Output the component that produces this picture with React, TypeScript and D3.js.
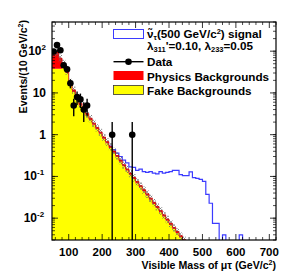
import React from "react";
import * as d3 from "d3";

const binLow = [50,60,70,80,90,100,110,120,130,140,150,160,170,180,190,200,210,220,230,240,250,260,270,280,290,300,310,320,330,340,350,360,370,380,390,400,410,420,430,440,450];
const fakeBkg = [38,38,38,44,30,16,10.5,7.0,5.0,3.8,2.9,2.25,1.72,1.36,1.05,0.8,0.62,0.48,0.37,0.29,0.225,0.175,0.138,0.11,0.087,0.069,0.055,0.044,0.035,0.0277,0.022,0.0175,0.0139,0.011,0.0087,0.0069,0.0055,0.0044,0.0035,0.0028,0.0022];
const physBkg = [57,57,30,8,4,2.2,1.3,0.8,0.55,0.4,0.3,0.23,0.17,0.13,0.1,0.078,0.06,0.045,0.035,0.027,0.021,0.016,0.013,0.01,0.008,0.0065,0.005,0.004,0.0032,0.0025,0.002,0.0016,0.0013,0.001,0.0008,0.00065,0.0005,0.0004,0.0003,0.00025,0.0002];

const sigLow = [220,230,240,250,260,270,280,290,300,310,320,330,340,350,360,370,380,390,400,410,420,430,440,450,460,470,480,490,500,510,520,530,540,550,560,570,580,590,600,610,620];
const sigPlusBkg = [0.53,0.44,0.36,0.30,0.245,0.21,0.17,0.165,0.14,0.15,0.13,0.125,0.13,0.12,0.115,0.13,0.12,0.125,0.13,0.14,0.14,0.11,0.104,0.104,0.128,0.094,0.09,0.085,0.076,0.037,0.0228,0.0075,0.0075,0,0.004,0,0,0,0,0.004,0];

const dataMass = [55,65,75,85,95,105,115,125,135,145,155,230,290];
const dataCount = [98,140,105,46,37,17,5,8,7,4,5,1,1];

const xTicks = [100,200,300,400,500,600,700];
const yTicks = [0.01,0.1,1,10,100];
const yTickBase = ["10","10","1","10","10"];
const yTickExp = ["-2","-1","","","2"];

const BIN = 10;
const bandFrac = 0.2;

export default function App() {
  const L = 52, R = 276, T = 22, B = 240;
  const x = d3.scaleLinear().domain([50, 720]).range([L, R]);
  const y = d3.scaleLog().domain([0.003, 500]).range([B, T]);
  const ys = (v: number) => (v > 0 ? y(v) : B + 60);

  const total = fakeBkg.map((f, i) => f + physBkg[i]);
  const steps = (lows: number[], lo: number[], hi: number[]) => {
    const pts: [number, number, number][] = [];
    lows.forEach((m, i) => {
      pts.push([m, lo[i], hi[i]]);
      pts.push([m + BIN, lo[i], hi[i]]);
    });
    return pts;
  };
  const area = d3.area<[number, number, number]>()
    .x(d => x(d[0])).y0(d => ys(d[1])).y1(d => ys(d[2]));
  const zeros = binLow.map(() => 0);
  const yellowPath = area(steps(binLow, zeros, fakeBkg)) || "";
  const redPath = area(steps(binLow, fakeBkg, total)) || "";
  const bandPath = area(steps(binLow, total.map(t => t * (1 - bandFrac)), total.map(t => t * (1 + bandFrac)))) || "";
  const line = d3.line<[number, number]>().x(d => x(d[0])).y(d => ys(d[1]));
  const sigPts: [number, number][] = [];
  sigLow.forEach((m, i) => { sigPts.push([m, sigPlusBkg[i]]); sigPts.push([m + BIN, sigPlusBkg[i]]); });
  const sigPath = line(sigPts) || "";
  const totalLinePts: [number, number][] = [];
  binLow.forEach((m, i) => { totalLinePts.push([m, total[i]]); totalLinePts.push([m + BIN, total[i]]); });
  const totalLine = line(totalLinePts) || "";

  const xMinor = d3.range(60, 721, 20);
  const yMinor: number[] = [];
  [-3, -2, -1, 0, 1, 2].forEach(e => { for (let k = 1; k <= 9; k++) { const v = k * Math.pow(10, e); if (v >= 0.003 && v <= 500) yMinor.push(v); } });

  const font = "'Liberation Sans', Arial, Helvetica, sans-serif";

  return (
    <svg width={291} height={277} style={{ position: "absolute", left: 0, top: 0, background: "#fff" }} fontFamily={font} fontWeight="bold">
      <defs>
        <clipPath id="plot"><rect x={L} y={T} width={R - L} height={B - T} /></clipPath>
        <pattern id="hatch" width={3} height={3} patternUnits="userSpaceOnUse">
          <path d="M0,3 L3,0 M0,0 L3,3" stroke="#666" strokeWidth={0.6} />
        </pattern>
      </defs>
      <rect x={0} y={0} width={291} height={277} fill="#fff" />
      <g clipPath="url(#plot)">
        <path d={sigPath} fill="none" stroke="#3b3bff" strokeWidth={1.2} />
        <path d={yellowPath} fill="#ffff00" />
        <path d={redPath} fill="#ff0000" />
        <path d={bandPath} fill="url(#hatch)" />
        <path d={totalLine} fill="none" stroke="#cc0000" strokeWidth={0.8} />
        {dataMass.map((m, i) => {
          const n = dataCount[i];
          const e = Math.sqrt(n);
          return (
            <g key={i}>
              <line x1={x(m)} x2={x(m)} y1={ys(n - e)} y2={ys(n + e)} stroke="#000" strokeWidth={1.4} />
              <circle cx={x(m)} cy={y(n)} r={3.3} fill="#000" />
            </g>
          );
        })}
      </g>
      <rect x={L} y={T} width={R - L} height={B - T} fill="none" stroke="#000" strokeWidth={1.2} />
      {xTicks.map(t => (
        <g key={"xt" + t}>
          <line x1={x(t)} x2={x(t)} y1={B} y2={B - 6} stroke="#000" strokeWidth={0.8} />
          <line x1={x(t)} x2={x(t)} y1={T} y2={T + 6} stroke="#000" strokeWidth={0.8} />
          <text x={x(t)} y={255.5} fontSize={11.5} textAnchor="middle">{t}</text>
        </g>
      ))}
      {xMinor.filter(t => t % 100 !== 0).map(t => (
        <g key={"xm" + t}>
          <line x1={x(t)} x2={x(t)} y1={B} y2={B - 3} stroke="#000" strokeWidth={0.7} />
          <line x1={x(t)} x2={x(t)} y1={T} y2={T + 3} stroke="#000" strokeWidth={0.7} />
        </g>
      ))}
      {yMinor.map((v, i) => (
        <g key={"ym" + i}>
          <line x1={L} x2={L + 3} y1={y(v)} y2={y(v)} stroke="#000" strokeWidth={0.7} />
          <line x1={R} x2={R - 3} y1={y(v)} y2={y(v)} stroke="#000" strokeWidth={0.7} />
        </g>
      ))}
      {yTicks.map((t, i) => (
        <g key={"yt" + t}>
          <line x1={L} x2={L + 6} y1={y(t)} y2={y(t)} stroke="#000" strokeWidth={0.8} />
          <line x1={R} x2={R - 6} y1={y(t)} y2={y(t)} stroke="#000" strokeWidth={0.8} />
          <text x={yTickExp[i] ? 46 - (yTickExp[i].length * 4.5) : 46} y={y(t) + 4} fontSize={12} textAnchor="end">{yTickBase[i]}</text>
          {yTickExp[i] && (
            <text x={46 - (yTickExp[i].length * 4.5)} y={y(t) - 1.5} fontSize={8} textAnchor="start">{yTickExp[i]}</text>
          )}
        </g>
      ))}
      <text x={276} y={269} fontSize={10.6} textAnchor="end">
        Visible Mass of {"\u03bc\u03c4"} (GeV/c<tspan fontSize={7} dy={-4}>2</tspan><tspan dy={4}>)</tspan>
      </text>
      <text transform="translate(27,20) rotate(-90)" fontSize={10.6} textAnchor="end">
        Events/(10 GeV/c<tspan fontSize={7} dy={-4}>2</tspan><tspan dy={4}>)</tspan>
      </text>
      <rect x={113.5} y={29.5} width={30} height={9} fill="#fff" stroke="#3b3bff" strokeWidth={1} />
      <line x1={113.5} x2={143.5} y1={61.7} y2={61.7} stroke="#000" strokeWidth={1.4} />
      <circle cx={128.5} cy={61.7} r={3.3} fill="#000" />
      <rect x={113.5} y={71} width={30} height={9} fill="#ff0000" />
      <rect x={113.5} y={85.5} width={30} height={9} fill="#ffff00" stroke="#333" strokeWidth={0.8} />
      <g fontSize={11.7}>
        <text x={147} y={38}>{"\u03bd\u0303"}<tspan fontSize={7.5} dy={2}>{"\u03c4"}</tspan><tspan dy={-2}>(500 GeV/c</tspan><tspan fontSize={7.5} dy={-4}>2</tspan><tspan dy={4}>) signal</tspan></text>
        <text x={147} y={49.5}>{"\u03bb"}<tspan fontSize={7.5} dy={2}>311</tspan><tspan dy={-2}>'=0.10, {"\u03bb"}</tspan><tspan fontSize={7.5} dy={2}>233</tspan><tspan dy={-2}>=0.05</tspan></text>
        <text x={147} y={65.5}>Data</text>
        <text x={147} y={80.5}>Physics Backgrounds</text>
        <text x={147} y={94.5}>Fake Backgrounds</text>
      </g>
    </svg>
  );
}
